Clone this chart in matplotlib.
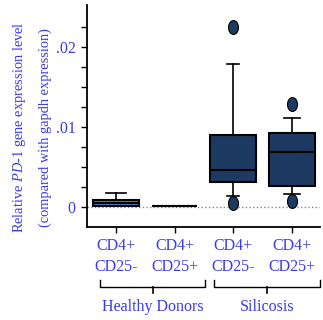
import matplotlib
matplotlib.use("Agg")
import matplotlib.pyplot as plt
import matplotlib.transforms as mtransforms
from matplotlib.path import Path

plt.rcParams['font.family'] = ['Liberation Serif', 'DejaVu Serif']
plt.rcParams['mathtext.fontset'] = 'custom'
plt.rcParams['mathtext.rm'] = 'Liberation Serif'
plt.rcParams['mathtext.it'] = 'Liberation Serif:italic'

# PD-1 expression relative to gapdh, per group
groups = ['CD4+\nCD25-', 'CD4+\nCD25+', 'CD4+\nCD25-', 'CD4+\nCD25+']
whislo = [0.0002, 0.0001, 0.00138, 0.00167]
q1 = [0.0002, 0.0001, 0.00313, 0.0026]
med = [0.00055, 0.00015, 0.00467, 0.00688]
q3 = [0.00092, 0.0002, 0.0090, 0.0093]
whishi = [0.00175, 0.0002, 0.0179, 0.01117]
fliers = [[], [], [0.0225, 0.0005], [0.01283, 0.0008]]
cohorts = ['Healthy Donors', 'Silicosis']

blue_txt = '#3a3aef'
box_colors = ['#4a80c6', '#1d3a63', '#1d3a63', '#1d3a63']

stats = []
for i in range(len(groups)):
    stats.append({'whislo': whislo[i], 'q1': q1[i], 'med': med[i], 'q3': q3[i],
                  'whishi': whishi[i], 'fliers': fliers[i]})

# slightly tall oval for outliers
circ = Path.unit_circle()
oval = Path(circ.vertices * [0.72, 1.0], circ.codes)

fig = plt.figure(figsize=(3.23, 3.2), dpi=100)
ax = fig.add_axes([0.269, 0.29, 0.722, 0.694])

pos = [1, 2, 3, 4]
bp = ax.bxp(stats, positions=pos, widths=0.78, patch_artist=True,
            capwidths=[0.34, 0.3, 0.21, 0.28],
            boxprops=dict(edgecolor='black', linewidth=1.5),
            medianprops=dict(color='black', linewidth=1.5),
            whiskerprops=dict(color='black', linewidth=1.2),
            capprops=dict(color='black', linewidth=1.2),
            flierprops=dict(marker=oval, markerfacecolor='#1d3a63', markeredgecolor='black',
                            markersize=10, markeredgewidth=0.8))
for patch, c in zip(bp['boxes'], box_colors):
    patch.set_facecolor(c)

ax.axhline(0, color='#888888', linestyle=':', linewidth=1.0, zorder=0)

ax.set_xlim(0.506, 4.48)
ax.set_ylim(-0.0025, 0.0252)
ax.spines['top'].set_visible(False)
ax.spines['right'].set_visible(False)
ax.spines['left'].set_linewidth(1.3)
ax.spines['bottom'].set_linewidth(1.3)

ax.set_yticks([0, 0.01, 0.02])
ax.set_yticklabels(['0', '.01', '.02'])
ax.set_yticks([0.0025 * k for k in range(10)], minor=True)
ax.tick_params(axis='y', which='both', length=4, width=1, labelcolor=blue_txt,
               labelsize=11.5, pad=4)
ax.set_xticks(pos)
ax.set_xticklabels(groups)
ax.tick_params(axis='x', length=4, width=1, labelcolor=blue_txt, labelsize=11.5, pad=4)
for lbl in ax.get_xticklabels():
    lbl.set_linespacing(1.35)

ax.set_ylabel('Relative $\\mathit{PD}$-$\\mathit{1}$ gene expression level\n(compared with gapdh expression)',
              color=blue_txt, fontsize=10.4, linespacing=2.0)
ax.yaxis.set_label_coords(-0.15, 0.45)

# cohort brackets below the category labels
trans = mtransforms.blended_transform_factory(ax.transData, ax.transAxes)
spans = [(0.73, 2.52), (2.67, 4.48)]
for (x0, x1), name in zip(spans, cohorts):
    xm = (x0 + x1) / 2
    ax.plot([x0, x0, x1, x1], [-0.239, -0.269, -0.269, -0.239], color='black',
            linewidth=1, transform=trans, clip_on=False)
    ax.plot([xm, xm], [-0.269, -0.297], color='black', linewidth=1.2,
            transform=trans, clip_on=False)
    ax.text(xm, -0.36, name, ha='center', va='center', color=blue_txt, fontsize=11.5,
            transform=trans)

fig.savefig('out.png', dpi=100)
